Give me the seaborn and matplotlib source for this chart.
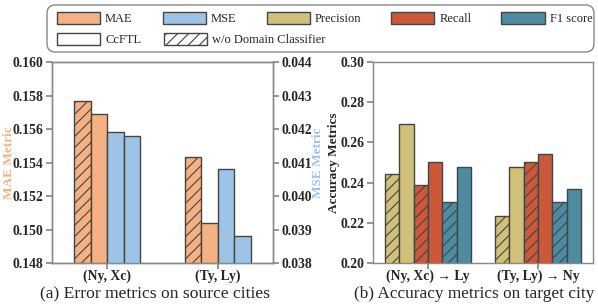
import numpy as np
import pandas as pd
import seaborn as sns
import matplotlib.pyplot as plt
from matplotlib.patches import Patch, FancyBboxPatch

# ---- data
src_groups = ["(Ny, Xc)", "(Ty, Ly)"]
mae_wo = [0.1577, 0.1543]
mae_cc = [0.1569, 0.1504]
mse_wo = [0.0419, 0.0408]
mse_cc = [0.0418, 0.0388]

tgt_groups = ["(Ny, Xc) \u2192 Ly", "(Ty, Ly) \u2192 Ny"]
prec_wo = [0.2445, 0.2235]
prec_cc = [0.2690, 0.2480]
rec_wo = [0.2390, 0.2502]
rec_cc = [0.2502, 0.2540]
f1_wo = [0.2302, 0.2305]
f1_cc = [0.2480, 0.2370]

colors = {"MAE": "#F4B183", "MSE": "#9DC3E6", "Precision": "#D0C17A",
          "Recall": "#CD5839", "F1 score": "#4E8BA0"}

sns.set_theme(style="ticks")
plt.rcParams["font.family"] = ["Liberation Serif", "DejaVu Serif"]
plt.rcParams["hatch.linewidth"] = 0.8
plt.rcParams["hatch.color"] = "#333333"

EDGE = "#444444"
SPINE = "#888888"
W, H = 598, 306


def make_df(groups, series):
    rows = []
    for name, vals in series.items():
        for g, v in zip(groups, vals):
            rows.append({"group": g, "series": name, "value": v})
    return pd.DataFrame(rows)


def style_axis(ax):
    for s in ax.spines.values():
        s.set_color(SPINE)
        s.set_linewidth(1.0)
    ax.tick_params(color=SPINE, labelsize=9.8, length=4, pad=2)
    ax.tick_params(axis="x", pad=1)
    for lab in ax.get_xticklabels() + ax.get_yticklabels():
        lab.set_fontweight("bold")
    ax.set_xlabel("")


def draw(ax, df, order, pal, width, hatched):
    sns.barplot(data=df, x="group", y="value", hue="series", hue_order=order,
                palette=pal, width=width, saturation=1, errorbar=None,
                legend=False, edgecolor=EDGE, linewidth=1.0, ax=ax)
    present = [h for h in order if h in set(df["series"])]
    for cont, level in zip(ax.containers, present):
        if level in hatched:
            for bar in cont:
                bar.set_hatch("///")


fig = plt.figure(figsize=(W / 100, H / 100), dpi=100)
ax1 = fig.add_axes([52 / W, 43 / H, 221 / W, 201 / H])
ax2 = fig.add_axes([373 / W, 43 / H, 220 / W, 201 / H])

# ---- (a) error metrics, MAE left axis, MSE right axis
order_a = ["MAE wo", "MAE", "MSE wo", "MSE"]
pal_a = {"MAE wo": colors["MAE"], "MAE": colors["MAE"],
         "MSE wo": colors["MSE"], "MSE": colors["MSE"]}
df_mae = make_df(src_groups, {"MAE wo": mae_wo, "MAE": mae_cc})
df_mse = make_df(src_groups, {"MSE wo": mse_wo, "MSE": mse_cc})

draw(ax1, df_mae, order_a, pal_a, 0.6, {"MAE wo"})
ax1b = ax1.twinx()
draw(ax1b, df_mse, order_a, pal_a, 0.6, {"MSE wo"})

ax1.set_xlim(-0.5, 1.5)
ax1.set_ylim(0.148, 0.160)
ticks = np.arange(0.148, 0.1601, 0.002)
ax1.set_yticks(ticks)
ax1.set_yticklabels([f"{t:.3f}" for t in ticks])
ax1b.set_ylim(0.038, 0.044)
ticks = np.arange(0.038, 0.0441, 0.001)
ax1b.set_yticks(ticks)
ax1b.set_yticklabels([f"{t:.3f}" for t in ticks])
style_axis(ax1)
style_axis(ax1b)
ax1.set_ylabel("MAE Metric", color=colors["MAE"], fontweight="bold", fontsize=9.5)
ax1.yaxis.set_label_coords((15 - 52) / 221, 0.5)
ax1b.set_ylabel("MSE Metric", color=colors["MSE"], fontweight="bold", fontsize=9.5)
ax1b.yaxis.set_label_coords((312 - 52) / 221, 0.5)

# ---- (b) accuracy metrics
order_b = ["Precision wo", "Precision", "Recall wo", "Recall", "F1 wo", "F1"]
pal_b = {"Precision wo": colors["Precision"], "Precision": colors["Precision"],
         "Recall wo": colors["Recall"], "Recall": colors["Recall"],
         "F1 wo": colors["F1 score"], "F1": colors["F1 score"]}
df_acc = make_df(tgt_groups, {"Precision wo": prec_wo, "Precision": prec_cc,
                              "Recall wo": rec_wo, "Recall": rec_cc,
                              "F1 wo": f1_wo, "F1": f1_cc})
draw(ax2, df_acc, order_b, pal_b, 0.78, {"Precision wo", "Recall wo", "F1 wo"})
ax2.set_xlim(-0.5, 1.5)
ax2.set_ylim(0.20, 0.30)
ticks = np.arange(0.20, 0.301, 0.02)
ax2.set_yticks(ticks)
ax2.set_yticklabels([f"{t:.2f}" for t in ticks])
style_axis(ax2)
ax2.set_ylabel("Accuracy Metrics", fontweight="bold", fontsize=9.5)
ax2.yaxis.set_label_coords((340 - 373) / 220, 0.5)

# ---- shared legend: two rows drawn as two frameless legends in one box
row1 = [Patch(facecolor=colors[k], edgecolor=EDGE, label=k)
        for k in ["MAE", "MSE", "Precision", "Recall", "F1 score"]]
row2 = [Patch(facecolor="white", edgecolor=EDGE, label="CcFTL"),
        Patch(facecolor="white", edgecolor=EDGE, hatch="///",
              label="w/o Domain Classifier")]
leg_kw = dict(loc="center left", fontsize=9, frameon=False, borderpad=0,
              handlelength=3.45, handleheight=1.05, handletextpad=0.4,
              borderaxespad=0)
leg1 = fig.legend(handles=row1, ncol=5, columnspacing=2.4,
                  bbox_to_anchor=(57 / W, 1 - 18.5 / H), **leg_kw)
leg2 = fig.legend(handles=row2, ncol=2, columnspacing=1.8,
                  bbox_to_anchor=(57 / W, 1 - 39.5 / H), **leg_kw)
box = FancyBboxPatch((47 / W, 1 - 52 / H), 547 / W, 47 / H,
                     boxstyle="round,pad=0,rounding_size=0.014",
                     mutation_aspect=W / H, transform=fig.transFigure,
                     facecolor="white", edgecolor="#888888", linewidth=1.0,
                     zorder=-1)
fig.patches.append(box)

fig.text(154.5 / W, 1 - 294 / H, "(a) Error metrics on source cities",
         ha="center", va="center", fontsize=12.6)
fig.text(474 / W, 1 - 294 / H, "(b) Accuracy metrics on target city",
         ha="center", va="center", fontsize=12.4)

fig.savefig("out.png", dpi=100)
